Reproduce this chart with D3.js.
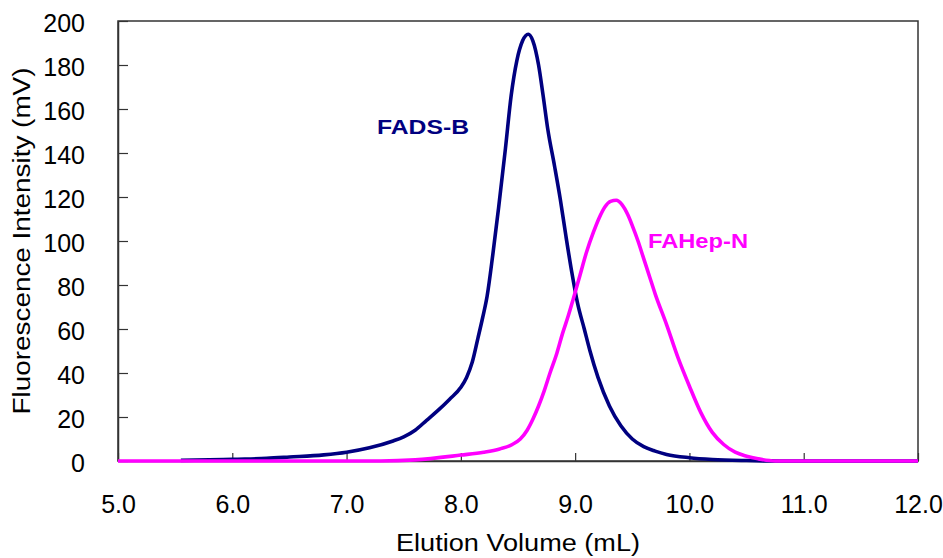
<!DOCTYPE html>
<html>
<head>
<meta charset="utf-8">
<script src="https://cdn.jsdelivr.net/npm/d3@7"></script>
<style>
  body { margin: 0; background: #fff; }
  svg text { font-family: "Liberation Sans", Arial, sans-serif; }
</style>
</head>
<body>
<div id="chart"></div>
<script>
// values
var fadsX = [5.55, 5.8, 6.0, 6.3, 6.5, 6.8, 7.0, 7.2, 7.4, 7.5, 7.6, 7.7, 7.8, 7.9, 8.0, 8.05, 8.1, 8.15, 8.19, 8.23, 8.28, 8.33, 8.39, 8.44, 8.49, 8.54, 8.59, 8.63, 8.68, 8.72, 8.76, 8.82, 8.87, 8.92, 8.97, 9.02, 9.08, 9.13, 9.2, 9.3, 9.4, 9.5, 9.6, 9.7, 9.8, 10.0, 10.2, 10.5, 10.8, 12.0];
var fadsY = [0.3, 0.5, 0.8, 1.2, 1.8, 2.8, 4, 6, 9, 11, 14, 18.5, 23, 28, 33.5, 38, 45, 56, 65, 75, 94, 115, 142, 166, 182, 191, 194, 191, 180, 166, 151, 134, 119, 102, 86, 72, 60, 50, 38, 25, 16, 10, 6.5, 4.5, 3, 1.5, 0.7, 0.2, 0, 0];

var hepX = [5.0, 7.3, 7.6, 8.0, 8.2, 8.34, 8.45, 8.52, 8.58, 8.63, 8.68, 8.73, 8.78, 8.84, 8.89, 8.94, 8.98, 9.04, 9.1, 9.16, 9.21, 9.26, 9.31, 9.36, 9.41, 9.46, 9.5, 9.55, 9.6, 9.65, 9.7, 9.8, 9.9, 10.0, 10.1, 10.2, 10.3, 10.4, 10.5, 10.6, 10.75, 12.0];
var hepY = [0, 0, 0.5, 2.7, 4, 5.5, 7.5, 10, 14, 19, 25, 32, 40, 49, 58, 66, 73, 84, 95, 104, 110.5, 115.5, 118, 118.5, 116.5, 112, 107, 100, 92, 84, 76, 62, 47, 34, 22, 13, 7.5, 4, 2.2, 1, 0, 0];

var xTicks = [5, 6, 7, 8, 9, 10, 11, 12];
var yTicks = [0, 20, 40, 60, 80, 100, 120, 140, 160, 180, 200];

var width = 943, height = 558;
// plot area edges (avoid "top", it is window.top)
var plotLeft = 118, plotRight = 918, plotTop = 21, plotBottom = 461;

var svg = d3.select("#chart")
  .append("svg")
  .attr("width", width)
  .attr("height", height);

var xScale = d3.scaleLinear().domain([5, 12]).range([plotLeft, plotRight]);
var yScale = d3.scaleLinear().domain([0, 200]).range([plotBottom, plotTop]);

// frame
svg.append("rect")
  .attr("x", plotLeft)
  .attr("y", plotTop)
  .attr("width", plotRight - plotLeft)
  .attr("height", plotBottom - plotTop)
  .style("fill", "none")
  .style("stroke", "#333")
  .style("stroke-width", 1.5);

// axes, ticks pointing inward
var xAxis = d3.axisBottom(xScale)
  .tickValues(xTicks)
  .tickSizeInner(-8)
  .tickSizeOuter(0)
  .tickPadding(38)
  .tickFormat(d3.format(".1f"));
var yAxis = d3.axisLeft(yScale)
  .tickValues(yTicks)
  .tickSizeInner(-10)
  .tickSizeOuter(0)
  .tickPadding(33);

var gx = svg.append("g")
  .attr("transform", "translate(0," + plotBottom + ")")
  .call(xAxis);
var gy = svg.append("g")
  .attr("transform", "translate(" + plotLeft + ",0)")
  .call(yAxis);

[gx, gy].forEach(function (g) {
  g.selectAll("path").style("stroke", "#333").style("stroke-width", 1.5);
  g.selectAll("line").style("stroke", "#333").style("stroke-width", 1.2);
  g.selectAll("text")
    .style("font-family", "'Liberation Sans', Arial, sans-serif")
    .style("font-size", "25px")
    .style("fill", "#000");
});
gy.selectAll("text").attr("dy", "0.42em");
gx.selectAll("text").attr("dy", "0.55em");

var line = d3.line()
  .x(function (d) { return xScale(d[0]); })
  .y(function (d) { return yScale(d[1]); })
  .curve(d3.curveMonotoneX);

var fads = fadsX.map(function (x, i) { return [x, fadsY[i]]; });
var hep = hepX.map(function (x, i) { return [x, hepY[i]]; });

svg.append("path")
  .datum(fads)
  .attr("d", line)
  .style("fill", "none")
  .style("stroke", "#000080")
  .style("stroke-width", 3.6)
  .style("stroke-linejoin", "round");

svg.append("path")
  .datum(hep)
  .attr("d", line)
  .style("fill", "none")
  .style("stroke", "#ff00ff")
  .style("stroke-width", 3.6)
  .style("stroke-linejoin", "round");

// series labels
svg.append("text")
  .attr("x", 377)
  .attr("y", 134)
  .attr("textLength", 92)
  .attr("lengthAdjust", "spacingAndGlyphs")
  .style("font-size", "20px")
  .style("font-weight", "bold")
  .style("fill", "#000080")
  .text("FADS-B");

svg.append("text")
  .attr("x", 648)
  .attr("y", 248)
  .attr("textLength", 100)
  .attr("lengthAdjust", "spacingAndGlyphs")
  .style("font-size", "21px")
  .style("font-weight", "bold")
  .style("fill", "#ff00ff")
  .text("FAHep-N");

// axis titles
svg.append("text")
  .attr("x", (plotLeft + plotRight) / 2)
  .attr("y", 551)
  .attr("text-anchor", "middle")
  .attr("textLength", 244)
  .attr("lengthAdjust", "spacingAndGlyphs")
  .style("font-size", "23px")
  .style("fill", "#000")
  .text("Elution Volume (mL)");

svg.append("text")
  .attr("transform", "translate(30," + ((plotTop + plotBottom) / 2) + ") rotate(-90)")
  .attr("text-anchor", "middle")
  .attr("textLength", 347)
  .attr("lengthAdjust", "spacingAndGlyphs")
  .style("font-size", "23px")
  .style("fill", "#000")
  .text("Fluorescence Intensity (mV)");
</script>
</body>
</html>
